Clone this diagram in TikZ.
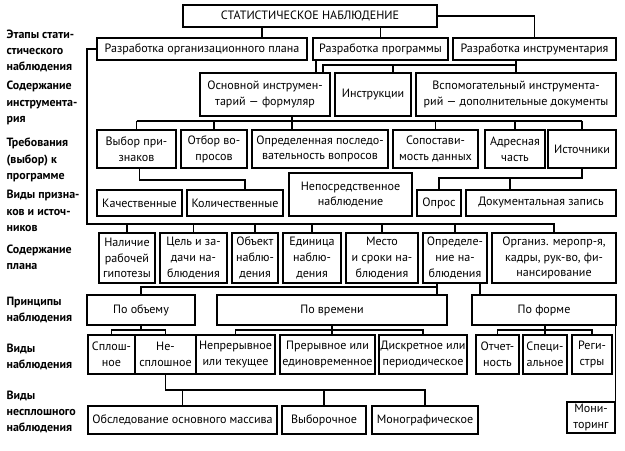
\documentclass[tikz,border=0pt]{standalone}
\usepackage{fontspec}
\setmainfont{PT Sans}
\usetikzlibrary{positioning, calc}

\begin{document}
\begin{tikzpicture}[
    x=0.3mm, y=-0.3mm,
    line width=1pt,
    % Styles
    blk/.style={
        draw, rectangle, align=center, inner xsep=0.5pt, inner ysep=1pt,
        font=\fontsize{10.3}{13.5}\selectfont
    },
    w/.style={minimum width=#1*0.3mm},
    h/.style={minimum height=#1*0.3mm},
    stage/.style={
        anchor=west, align=left, inner sep=0pt,
        font=\fontsize{10.2}{14}\selectfont\bfseries
    }
  ]
    \useasboundingbox (0,0) rectangle (625,451);

    % --- Stages ---
    \node (title)   [blk, w=254, h=22] at (310,16)    {СТАТИСТИЧЕСКОЕ НАБЛЮДЕНИЕ};
    \node (orgplan) [blk, w=210, h=22] at (202,49)    {Разработка организационного плана};
    \node (prog)    [blk, w=135, h=22] at (380.5,49)  {Разработка программы};
    \node (instr)   [blk, w=163, h=22] at (534.5,49)  {Разработка инструментария};

    % --- Instruments ---
    \node (basic)  [blk, w=130, h=43] at (265,94.5)   {Основной инструмен-\\тарий — формуляр};
    \node (manual) [blk, w=76,  h=43] at (373,94.5)   {Инструкции};
    \node (aux)    [blk, w=200, h=43] at (516,94.5)   {Вспомогательный инструмента-\\рий — дополнительные документы};

    % --- Requirements ---
    \node (choice)  [blk, w=79,  h=38] at (136.5,149) {Выбор при-\\знаков};
    \node (select)  [blk, w=66,  h=38] at (214,149)   {Отбор во-\\просов};
    \node (order)   [blk, w=136, h=38] at (320,149)   {Определенная последо-\\вательность вопросов};
    \node (compar)  [blk, w=85,  h=38] at (435.5,149) {Сопостави-\\мость данных};
    \node (addr)    [blk, w=60,  h=38] at (515,149)   {Адресная\\часть};
    \node (sources) [blk, w=68,  h=38] at (582,149)   {Источники};

    % --- Signs and sources ---
    \node (qual)   [blk, w=85,  h=26] at (139.5,203)  {Качественные};
    \node (quant)  [blk, w=96,  h=26] at (235,203)    {Количественные};
    \node (direct) [blk, w=123, h=43] at (350.5,194.5) {Непосредственное\\наблюдение};
    \node (survey) [blk, w=44,  h=26] at (439,203)    {Опрос};
    \node (docs)   [blk, w=150, h=26] at (541,203)    {Документальная запись};

    % --- Plan ---
    \node (hyp)     [blk, w=56,  h=50] at (127,258)   {Наличие\\рабочей\\гипотезы};
    \node (goal)    [blk, w=67,  h=50] at (193.5,258) {Цель и за-\\дачи на-\\блюдения};
    \node (object)  [blk, w=46,  h=50] at (255,258)   {Объект\\наблю-\\дения};
    \node (unit)    [blk, w=58,  h=50] at (312,258)   {Единица\\наблю-\\дения};
    \node (place)   [blk, w=72,  h=50] at (382,258)   {Место\\и сроки на-\\блюдения};
    \node (defin)   [blk, w=64,  h=50] at (455,258)   {Определе-\\ние на-\\блюдения};
    \node (organiz) [blk, w=124, h=50] at (554,258)   {Организ. меропр-я,\\кадры, рук-во, фи-\\нансирование};

    % --- Principles ---
    \node (volume) [blk, w=108, h=30] at (141,310)    {По объему};
    \node (time)   [blk, w=230, h=30] at (332,310)    {По времени};
    \node (form)   [blk, w=144, h=30] at (544,310)    {По форме};

    % --- Kinds of observation ---
    \node (full)    [blk, w=47, h=39] at (111.5,354.5) {Сплош-\\ное};
    \node (partial) [blk, w=61, h=39] at (165.5,354.5) {Не-\\сплошное};
    \node (cont)    [blk, w=79, h=39] at (235.5,354.5) {Непрерывное\\или текущее};
    \node (onetime) [blk, w=95, h=39] at (327.5,354.5) {Прерывное или\\единовременное};
    \node (discr)   [blk, w=88, h=39] at (423,354.5)   {Дискретное или\\периодическое};
    \node (report)  [blk, w=43, h=39] at (497.5,354.5) {Отчет-\\ность};
    \node (special) [blk, w=44, h=39] at (545,354.5)   {Специ-\\альное};
    \node (regist)  [blk, w=40, h=39] at (592,354.5)   {Реги-\\стры};

    % --- Kinds of non-continuous observation ---
    \node (mainmass) [blk, w=189, h=28] at (182.5,420) {Обследование основного массива};
    \node (sample)   [blk, w=84,  h=28] at (324,420)   {Выборочное};
    \node (mono)     [blk, w=106, h=28] at (425,420)   {Монографическое};
    \node (monit)    [blk, w=48,  h=31] at (591,417.5) {Мони-\\торинг};

    % --- Row captions ---
    \node (cap1) [stage] at (6,51)  {Этапы стати-\\стического\\наблюдения};
    \node (cap2) [stage] at (6,103) {Содержание\\инструмента-\\рия};
    \node (cap3) [stage] at (6,160) {Требования\\(выбор) к\\программе};
    \node (cap4) [stage] at (6,211) {Виды призна-\\ков и источ-\\ников};
    \node (cap5) [stage] at (6,257) {Содержание\\плана};
    \node (cap6) [stage] at (6,310) {Принципы\\наблюдения};
    \node (cap7) [stage] at (6,357) {Виды\\наблюдения};
    \node (cap8) [stage] at (6,412) {Виды\\несплошного\\наблюдения};

    % --- Title to stages ---
    \draw (title.south -| 262,0) -- (orgplan.north -| 262,0);
    \draw (title.south -| prog.north) -- (prog.north);
    \draw (title.east) -| (instr.north);

    % --- Instruments ---
    \coordinate (ibus) at (0,65);
    \draw (instr.south -| aux.north) -- (aux.north);
    \draw (ibus -| aux.north) -| (basic.north -| 323,0);
    \draw (ibus -| 393,0) -- (manual.north -| 393,0);

    % --- Program to requirements ---
    \coordinate (rbus) at (0,121);
    \draw (prog.south -| 316,0) -- (basic.north -| 316,0);
    \draw (basic.south -| 292,0) -- (order.north -| 292,0);
    \draw (rbus -| choice.north) -- (rbus -| sources.north);
    \foreach \n in {choice, select, compar, addr, sources}
        \draw (rbus -| \n.north) -- (\n.north);

    % --- Signs and sources ---
    \coordinate (sbus) at (0,180);
    \draw (choice.south -| qual.north) -- (sbus -| qual.north) -- (sbus -| 245,0) -- (quant.north -| 245,0);
    \coordinate (qbus) at (0,178);
    \draw (sources.south) -- (qbus -| sources.south) -- (qbus -| survey.north) -- (survey.north);
    \draw (qbus -| 510,0) -- (docs.north -| 510,0);

    % --- Plan ---
    \coordinate (pbus) at (87,224);
    \draw (orgplan.west) -| (pbus) -- (pbus -| organiz.north) -- (organiz.north);
    \foreach \n in {hyp, goal, object, unit, place, defin}
        \draw (pbus -| \n.north) -- (\n.north);

    % --- Principles ---
    \coordinate (obus) at (0,287);
    \draw (defin.south -| 437,0) -- (time.north -| 437,0);
    \draw (obus -| 437,0) -| (volume.north);
    \draw (defin.south -| 480,0) -- (form.north -| 480,0);

    % --- Kinds of observation ---
    \coordinate (kbus) at (0,330);
    \draw (volume.south) -- (volume.south |- kbus);
    \draw (full.north) |- (partial.north |- kbus) -- (partial.north);
    \draw (time.south) -- (time.south |- onetime.north);
    \draw (cont.north) |- (discr.north |- kbus) -- (discr.north);
    \draw (form.south -| special.north) -- (special.north);
    \draw (report.north) |- (regist.north |- kbus) -- (regist.north);
    \draw (form.south -| monit.east) -- (monit.north east);

    % --- Kinds of non-continuous observation ---
    \coordinate (nbus) at (0,390);
    \draw (partial.south) -- (partial.south |- nbus) -- (mono.north |- nbus) -- (mono.north);
    \foreach \n in {mainmass, sample}
        \draw (\n.north |- nbus) -- (\n.north);

\end{tikzpicture}
\end{document}
